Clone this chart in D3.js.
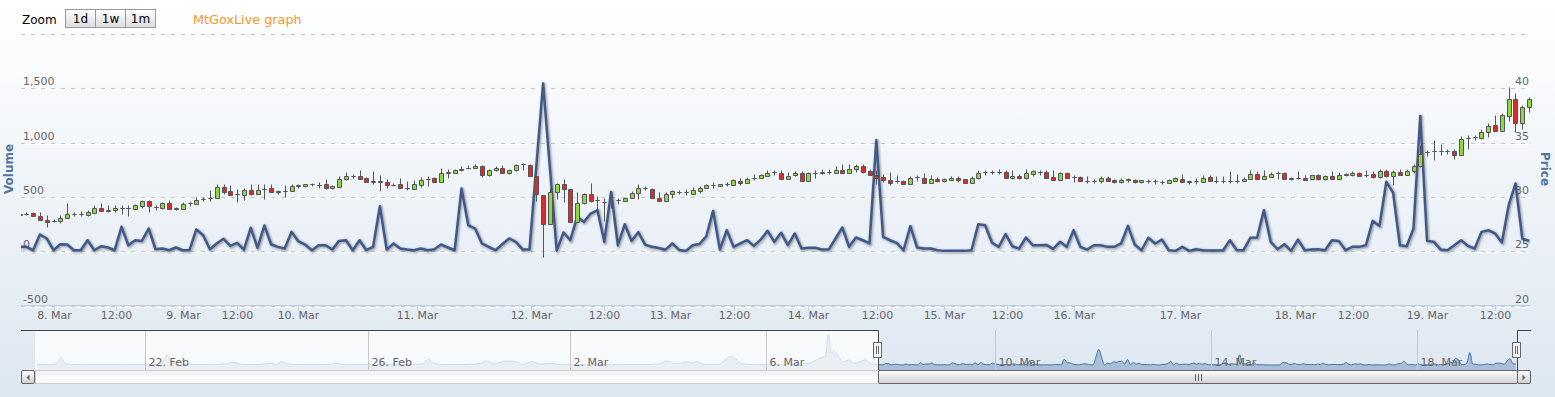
<!DOCTYPE html>
<html><head><meta charset="utf-8">
<script src="https://cdn.jsdelivr.net/npm/d3@7"></script>
<style>html,body{margin:0;padding:0;overflow:hidden;background:#fff}svg{display:block}text{font-family:"DejaVu Sans",Verdana,sans-serif}</style>
</head><body>
<svg id="c" width="1555" height="397"></svg>
<script>
// ---------------- DATA ----------------
const volume = [40,40,9,154,117,9,64,61,9,9,101,9,46,34,9,224,55,101,95,209,18,25,9,34,9,9,200,147,18,71,114,49,77,15,215,31,236,64,40,25,178,92,61,9,55,55,15,95,101,9,101,9,40,414,15,71,
25,15,9,25,9,18,61,34,9,577,239,209,71,40,9,64,117,86,15,15,780,1544,770,5,172,101,316,270,347,378,86,546,
55,248,95,175,60,40,30,14,71,12,3,55,66,138,371,15,193,40,71,101,49,107,187,86,
169,55,163,25,31,31,15,15,117,218,40,126,101,71,1022,132,101,77,9,230,34,25,25,9,3,3,3,3,9,249,239,80,40,157,46,25,126,55,55,58,21,86,40,193,40,15,55,55,40,40,71,233,61,9,124,
71,107,9,3,40,3,18,9,6,6,9,101,9,9,123,126,378,86,18,64,3,107,9,15,18,9,101,95,9,40,40,55,279,233,639,540,55,46,209,1246,95,86,15,9,55,101,49,25,178,193,163,80,424,623,117,95];

const priceOpen = [28.37,28.45,28.50,28.28,27.91,27.77,27.79,28.10,28.42,28.46,28.37,28.56,29.02,28.77,28.80,29.00,29.02,28.93,29.20,29.60,29.10,29.02,29.42,28.93,28.93,29.45,29.39,29.82,29.90,29.94,30.92,30.52,30.30,30.21,30.67,30.28,30.76,30.80,30.49,30.55,30.58,31.04,30.98,31.16,31.13,31.17,30.80,30.95,31.66,31.90,31.90,31.72,31.41,31.42,31.41,31.13,
31.17,30.84,30.77,31.13,31.68,31.72,31.38,32.24,32.21,32.45,32.68,32.70,32.82,32.06,32.45,32.70,32.21,32.45,33.00,32.91,31.96,30.21,27.55,30.46,31.17,30.77,27.70,29.48,30.25,29.68,29.55,29.54,29.68,29.63,29.94,30.40,30.84,30.77,29.94,29.63,30.31,30.46,30.47,30.31,30.58,30.83,31.07,30.98,31.16,31.13,31.47,31.32,31.77,31.78,31.96,32.29,
32.24,31.69,32.00,32.21,31.48,32.23,32.24,32.25,32.24,32.52,32.24,32.61,32.83,32.37,32.06,31.84,31.60,31.45,31.48,31.23,31.84,31.78,31.29,31.69,31.42,31.60,31.78,31.63,31.29,31.78,32.26,32.30,32.27,32.27,31.75,31.97,31.78,32.15,32.30,32.27,31.84,31.60,32.21,31.84,31.81,31.45,31.47,31.48,31.72,31.54,31.35,31.60,31.60,31.35,31.48,
31.43,31.39,31.32,31.51,31.69,31.42,31.44,31.38,31.81,31.48,31.45,31.48,31.48,31.48,31.69,32.15,31.69,31.85,32.23,32.24,31.69,31.75,31.78,31.63,32.00,31.63,31.91,31.69,32.06,32.00,32.18,32.06,32.09,31.81,32.37,31.97,32.27,32.06,32.34,32.83,34.10,34.20,34.21,34.22,34.21,33.90,35.43,35.50,35.44,36.00,36.58,36.06,37.46,38.97,36.76,38.32];
const priceHigh = [28.45,28.59,28.59,28.65,28.37,27.98,28.37,29.42,28.65,28.68,28.77,29.23,29.42,29.30,29.30,29.30,29.30,29.33,29.75,29.75,29.26,29.57,29.75,29.08,29.54,29.63,30.00,30.00,30.67,31.17,31.23,31.10,30.74,30.86,31.17,31.17,31.23,31.17,30.67,31.07,31.17,31.23,31.23,31.32,31.35,31.63,31.07,31.90,32.27,32.09,32.45,31.84,32.36,32.02,31.69,31.29,
31.78,31.47,31.60,31.84,31.90,31.84,32.70,32.61,32.61,32.82,32.94,33.07,32.94,32.61,32.88,32.94,32.58,33.07,33.13,33.07,31.96,30.21,30.86,31.29,31.69,30.77,30.49,30.37,31.32,30.09,29.94,29.85,29.94,30.00,30.55,31.23,30.98,30.86,30.46,30.46,30.61,30.67,30.77,30.92,31.01,31.17,31.38,31.23,31.38,31.69,31.75,31.84,32.09,32.15,32.45,32.45,
32.52,32.31,32.34,32.37,32.31,32.46,32.61,32.61,32.83,33.01,33.01,33.01,33.01,32.61,32.46,32.15,32.27,32.06,31.60,31.94,32.00,32.21,32.00,31.84,31.72,31.91,31.97,31.69,31.97,32.52,32.52,32.52,32.58,32.46,32.52,32.09,32.61,32.46,32.52,32.46,32.46,32.31,32.31,32.00,31.97,31.91,31.69,31.91,31.91,31.69,31.78,31.78,31.69,31.60,31.69,
31.63,31.57,31.63,31.85,32.15,31.60,31.78,32.00,32.00,31.94,31.94,32.37,32.15,31.81,32.46,32.40,32.46,32.30,32.40,32.30,31.85,32.40,32.00,32.06,32.09,32.06,32.40,32.30,32.24,32.37,32.30,32.46,32.37,32.55,32.55,32.49,32.55,32.55,33.04,34.82,34.30,35.22,34.85,34.45,34.39,35.62,35.68,35.68,36.21,36.85,37.52,37.68,40.13,39.61,38.50,39.18];
const priceLow = [28.30,28.34,28.25,27.90,27.24,27.67,27.61,28.10,28.22,28.22,28.25,28.56,28.68,28.59,28.59,28.40,28.25,28.93,28.99,28.59,28.77,28.90,28.90,28.77,28.86,29.20,29.33,29.63,29.63,29.94,30.31,30.21,29.54,29.75,30.21,30.28,29.79,30.46,30.25,30.00,30.55,30.86,30.92,30.98,30.86,30.74,30.74,30.89,31.60,31.72,31.66,31.35,31.23,30.55,30.86,30.98,
30.86,30.61,30.77,30.92,30.98,31.38,31.38,31.78,32.21,32.39,32.58,32.64,31.84,31.93,32.39,32.21,32.09,32.39,32.45,31.96,29.63,24.48,27.55,29.85,29.54,27.70,27.70,29.39,29.54,28.31,27.79,29.02,29.39,29.63,29.91,29.85,30.61,29.94,29.63,29.63,29.91,30.25,30.21,30.25,30.37,30.80,30.80,30.98,30.98,31.07,31.13,31.32,31.60,31.78,31.90,31.99,
31.69,31.69,31.94,31.48,31.48,31.75,32.09,32.09,32.21,32.21,32.21,32.31,32.21,32.06,31.23,31.38,31.08,31.29,31.23,31.23,31.45,31.29,31.29,31.38,31.35,31.54,31.38,31.26,31.29,31.69,32.06,32.15,32.15,31.75,31.69,31.69,31.69,31.94,32.00,31.75,31.60,31.60,31.78,31.38,31.42,31.29,31.32,31.29,31.48,31.32,31.29,31.38,31.29,31.29,31.32,
31.23,31.23,31.26,31.45,31.38,31.20,31.23,31.38,31.48,31.32,31.32,31.32,31.32,31.48,31.63,31.63,31.63,31.81,31.63,31.69,31.54,31.63,31.57,31.63,31.57,31.57,31.69,31.63,31.91,31.94,31.91,31.85,31.75,31.75,31.85,31.14,32.00,32.00,32.24,32.77,33.75,33.41,33.84,33.99,33.53,33.84,34.45,35.22,35.37,35.53,36.06,36.06,37.00,36.00,36.21,37.83];
const priceClose = [28.38,28.47,28.28,27.91,27.73,27.79,28.10,28.40,28.47,28.47,28.59,29.02,28.74,28.74,29.02,29.02,28.99,29.23,29.60,29.14,29.08,29.42,28.93,28.95,29.39,29.48,29.75,29.85,29.94,30.92,30.49,30.21,30.31,30.64,30.28,30.67,30.77,30.49,30.50,30.56,30.98,31.05,31.20,31.17,31.14,30.80,30.98,31.66,31.90,31.91,31.66,31.41,31.42,31.41,31.13,31.14,
30.86,30.83,31.17,31.60,31.69,31.38,32.24,32.25,32.45,32.61,32.70,32.85,32.06,32.45,32.70,32.21,32.45,32.91,33.01,31.96,30.25,27.55,30.46,31.17,30.77,27.70,29.48,30.25,29.63,29.69,29.54,29.55,29.69,29.94,30.40,30.86,30.83,29.94,29.63,30.31,30.52,30.47,30.46,30.61,30.86,31.07,31.08,31.23,31.17,31.53,31.32,31.69,31.78,31.99,32.24,32.30,
31.69,31.97,32.21,31.48,32.21,32.24,32.25,32.27,32.52,32.24,32.61,32.83,32.31,32.06,31.78,31.60,31.29,31.44,31.23,31.78,31.85,31.29,31.69,31.42,31.63,31.78,31.60,31.32,31.78,32.21,32.27,32.31,32.28,31.75,31.97,31.75,32.21,32.37,32.31,31.75,31.60,32.21,31.78,31.83,31.42,31.44,31.48,31.72,31.48,31.35,31.60,31.61,31.35,31.54,31.49,
31.42,31.38,31.54,31.72,31.38,31.41,31.45,31.75,31.48,31.47,31.46,31.49,31.47,31.69,32.15,31.66,31.91,32.15,32.24,31.69,31.70,31.74,31.60,32.00,31.63,31.94,31.69,32.06,32.07,32.18,31.97,32.05,31.81,32.34,31.97,32.27,32.06,32.34,32.83,33.99,34.12,34.21,34.22,34.21,33.90,35.37,35.44,35.51,36.00,36.52,36.06,37.52,38.97,36.76,38.29,39.00];

// x-axis ticks (positions in point-index units of the ordinal axis)
const xTickLabels = ["8. Mar","12:00","9. Mar","12:00","10. Mar","11. Mar","12. Mar","12:00","13. Mar","12:00","14. Mar","12:00","15. Mar","12:00","16. Mar","17. Mar","18. Mar","12:00","19. Mar","12:00"];
const xTickPos = [5,14.15,24,32,41,58.5,75.2,86,95.6,105.1,116,126.05,136,145.2,155.1,170.7,187.6,196.1,207,217];
const volumeTicks = [-500,0,500,1000,1500,2000];
const priceTicks = [20,25,30,35,40,45];

// navigator: earlier volume history (index units before the first visible point)
const navEarlyIdx = [-292,-288,-285,-284,-282,-278,-270,-262,-255,-250,-248,-247,-245,-240,-232,-226,-224,-221,-215,-211,-209,-207,-205,-200,-195,-190,-188,-186,-178,-170,-163,-158,-156,-154,-150,-143,-138,-136,-133,-129,-126,-123,-120,-117,-114,-110,-100,-90,-80,-75,-73,-70,-66,-64,-63,-60,-55,-51,-49,-47,-40,-30,-24,-20,-18,-17,-16,-15,-13,-12,-10,-8,-4,-2];
const navEarlyVol = [40,30,120,770,100,40,30,40,30,60,400,1000,200,40,50,120,270,60,40,170,50,330,100,40,30,60,170,40,30,40,60,100,570,150,40,50,150,400,150,400,330,60,330,80,170,40,30,40,50,150,400,100,330,200,330,60,80,830,570,100,40,60,150,670,900,3100,1200,1330,670,300,500,150,500,80];
const navTickLabels = ["22. Feb","26. Feb","2. Mar","6. Mar","10. Mar","14. Mar","18. Mar"];
const navTickPos = [-254.5,-177,-106.8,-38.7,41,116,187.6];
const zoomButtons = ["1d","1w","1m"];

// ---------------- DRAW ----------------
const W=1555,H=397;
const svg=d3.select('#c');
const defs=svg.append('defs');
function vgrad(id,stops){const g=defs.append('linearGradient').attr('id',id).attr('x1',0).attr('y1',0).attr('x2',0).attr('y2',1);
  stops.forEach(s=>g.append('stop').attr('offset',s[0]).attr('stop-color',s[1]));}
vgrad('bg',[[0,'#ffffff'],[1,'#dde7f1']]);
vgrad('btn',[[0,'#ffffff'],[1,'#dcdcdc']]);
vgrad('bar',[[0,'#ffffff'],[1,'#cfcfcf']]);
vgrad('track',[[0,'#f2f2f2'],[1,'#ffffff']]);
svg.append('rect').attr('width',W).attr('height',H).attr('fill','url(#bg)');

const x=d3.scaleLinear().domain([0,222]).range([19.5,1529.1]);
const yV=d3.scaleLinear().domain([-500,2000]).range([305.5,34]);
const yP=d3.scaleLinear().domain([20,45]).range([305.5,34]);
const fmt=v=>d3.format(',')(v).replace('\u2212','-');

// grid lines
volumeTicks.forEach(v=>{
  const y=Math.round(yV(v))+0.5;
  svg.append('line').attr('x1',21).attr('x2',1531).attr('y1',y+1).attr('y2',y+1).attr('stroke','#ffffff').attr('stroke-width',1);
  svg.append('line').attr('x1',21).attr('x2',1531).attr('y1',y).attr('y2',y).attr('stroke','#c4c4c4').attr('stroke-width',1).attr('stroke-dasharray','4,6');
});
// y labels
volumeTicks.slice(0,-1).forEach(v=>{
  svg.append('text').attr('x',23).attr('y',yV(v)-3).attr('font-size',11).attr('fill','#666').text(fmt(v));
});
priceTicks.slice(0,-1).forEach(p=>{
  svg.append('text').attr('x',1529).attr('y',yP(p)-3).attr('text-anchor','end').attr('font-size',11).attr('fill','#666').text(p);
});
svg.append('text').attr('transform','translate(12.5,169) rotate(-90)').attr('text-anchor','middle').attr('font-size',12).attr('font-weight','bold').attr('fill','#4d759e').text('Volume');
svg.append('text').attr('transform','translate(1541,169) rotate(90)').attr('text-anchor','middle').attr('font-size',12).attr('font-weight','bold').attr('fill','#4d759e').text('Price');

// x axis
svg.append('line').attr('x1',21).attr('x2',1531).attr('y1',305.5).attr('y2',305.5).attr('stroke','#c0d0e0');
xTickPos.forEach((p,k)=>{
  const X=Math.round(x(p))+0.5;
  svg.append('line').attr('x1',X).attr('x2',X).attr('y1',305.5).attr('y2',310.5).attr('stroke','#c0d0e0');
  svg.append('text').attr('x',X).attr('y',319).attr('text-anchor','middle').attr('font-size',11).attr('fill','#666').text(xTickLabels[k]);
});

// series
defs.append('clipPath').attr('id','clip').append('rect').attr('x',21).attr('y',20).attr('width',1511).attr('height',300);
const g=svg.append('g').attr('clip-path','url(#clip)');
const line=d3.line().x((d,i)=>x(i)).y(d=>yV(d));
[[7,0.04],[5,0.08],[3,0.14]].forEach(([w,o])=>g.append('path').attr('d',line(volume)).attr('transform','translate(1,1)')
  .attr('fill','none').attr('stroke','#000').attr('stroke-opacity',o).attr('stroke-width',w).attr('stroke-linejoin','round'));
g.append('path').attr('d',line(volume)).attr('fill','none').attr('stroke','#3f5a8a').attr('stroke-width',2.5).attr('stroke-linejoin','round');

const cg=g.append('g');
priceOpen.forEach((o,i)=>{
  const c=priceClose[i],h=priceHigh[i],l=priceLow[i];
  const cx=Math.round(x(i))+0.5;
  const top=Math.round(yP(Math.max(o,c)))+0.5, bot=Math.round(yP(Math.min(o,c)))+0.5;
  const yh=Math.round(yP(h))+0.5, yl=Math.round(yP(l))+0.5;
  cg.append('path').attr('d',`M${cx},${yh}V${top}M${cx},${bot}V${yl}`).attr('stroke','#555').attr('stroke-width',1).attr('fill','none');
  cg.append('path').attr('d',`M${cx-2},${top}H${cx+2}V${bot}H${cx-2}Z`).attr('fill',c>o?'#8fd645':'#dd2b2b').attr('stroke','#555').attr('stroke-width',1);
});

// top: zoom buttons + title
svg.append('text').attr('x',22).attr('y',24).attr('font-size',12).attr('fill','#000').text('Zoom');
zoomButtons.forEach((b,k)=>{
  const bx=65.5+k*30;
  svg.append('rect').attr('x',bx).attr('y',9.5).attr('width',30).attr('height',18).attr('fill','url(#btn)').attr('stroke','#999');
  svg.append('text').attr('x',bx+15).attr('y',23).attr('text-anchor','middle').attr('font-size',12).attr('fill','#000').text(b);
});
svg.append('text').attr('x',193).attr('y',24).attr('font-size',12.8).attr('fill','#f7962d').text('MtGoxLive graph');

// navigator
const nx=d3.scaleLinear().domain([-292.8,222.4]).range([35,1517]);
const ny=d3.scaleLinear().domain([-500,3500]).range([370,330]);
const navData=navEarlyIdx.map((d,k)=>[d,navEarlyVol[k]]).concat(volume.map((v,i)=>[i,v]));
defs.append('clipPath').attr('id','nclip').append('rect').attr('x',35).attr('y',330).attr('width',1482).attr('height',40);
const ng=svg.append('g').attr('clip-path','url(#nclip)');
ng.append('path').attr('d',d3.area().x(d=>nx(d[0])).y0(370).y1(d=>ny(d[1])).curve(d3.curveMonotoneX)(navData)).attr('fill','#4572a7').attr('fill-opacity',0.35);
ng.append('path').attr('d',d3.line().x(d=>nx(d[0])).y(d=>ny(d[1])).curve(d3.curveMonotoneX)(navData)).attr('fill','none').attr('stroke','#4572a7').attr('stroke-width',1);
const hL=Math.round(nx(0.22)), hR=Math.round(nx(222.4));
svg.append('rect').attr('x',35).attr('y',330).attr('width',hL-35).attr('height',40).attr('fill','rgba(255,255,255,0.75)');
navTickPos.forEach((p,k)=>{
  const X=Math.round(nx(p))+0.5;
  svg.append('line').attr('x1',X).attr('x2',X).attr('y1',330).attr('y2',370).attr('stroke','#c8c8c8');
  svg.append('text').attr('x',X+3).attr('y',366).attr('font-size',11).attr('fill','#666').text(navTickLabels[k]);
});
svg.append('path').attr('d',`M21,330.5H${hL+0.5}V370.5H${hR+0.5}V330.5H1531`).attr('fill','none').attr('stroke','#444');

// scrollbar
svg.append('rect').attr('x',35.5).attr('y',370.5).attr('width',1481).attr('height',13).attr('fill','url(#track)').attr('stroke','#ccc');
[[21.5,-1],[1517.5,1]].forEach(([bx,dir])=>{
  svg.append('rect').attr('x',bx).attr('y',370.5).attr('width',13).attr('height',13).attr('rx',1.5).attr('fill','url(#bar)').attr('stroke','#666');
  const cx=bx+6.5;
  svg.append('path').attr('d',dir<0?`M${cx+1.5},${374.5}L${cx+1.5},${380.5}L${cx-1.5},${377.5}Z`:`M${cx-1.5},${374.5}L${cx-1.5},${380.5}L${cx+1.5},${377.5}Z`).attr('fill','#666');
});
svg.append('rect').attr('x',hL+0.5).attr('y',370.5).attr('width',hR-hL).attr('height',13).attr('rx',1.5).attr('fill','url(#bar)').attr('stroke','#666');
const rc=Math.round((hL+hR)/2)+0.5;
svg.append('path').attr('d',`M${rc-3},374V381M${rc},374V381M${rc+3},374V381`).attr('stroke','#666').attr('fill','none');

// handles
[hL,hR].forEach(hx=>{
  svg.append('path').attr('transform',`translate(${hx},342)`).attr('d','M-4.5,0.5L3.5,0.5L3.5,15.5L-4.5,15.5Z').attr('fill','#f4f4f4').attr('stroke','#666');
  svg.append('path').attr('transform',`translate(${hx},342)`).attr('d','M-1.5,4L-1.5,12M0.5,4L0.5,12').attr('stroke','#666').attr('fill','none');
});
</script>
</body></html>
